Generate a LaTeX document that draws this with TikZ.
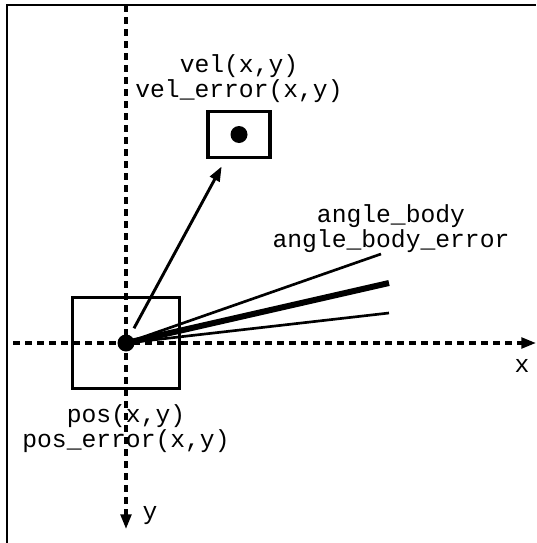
\documentclass[tikz,border=0pt]{standalone}
\usepackage{fontspec}
\setmonofont{Liberation Mono}
\usetikzlibrary{positioning,arrows.meta}
\begin{document}
\begin{tikzpicture}[x=0.75pt, y=-0.75pt, >={Triangle[length=11pt,width=8pt]},
    axis/.style={line width=2.4pt, dash pattern=on 5.5pt off 3.5pt},
    lbl/.style={font=\ttfamily\fontsize{18.5}{18.8}\selectfont, align=center, inner sep=0pt},
    box/.style={draw, line width=2.4pt, inner sep=0pt},
    dot/.style={circle, fill, inner sep=0pt, minimum size=12.75pt}]
    \useasboundingbox (0,0) rectangle (536,543);
    % frame
    \draw[line width=2pt] (7,543) -- (7,5) -- (536,5);
    % axes
    \coordinate (xs) at (13,343);
    \coordinate (xe) at (536,343);
    \coordinate (ys) at (126,5);
    \coordinate (ye) at (126,529);
    \draw[axis, ->] (xs) -- (xe);
    \draw[axis, ->] (ys) -- (ye);
    \node[lbl] (xl) at (522,366) {x};
    \node[lbl] (yl) at (150,516) {y};
    % body and position
    \node[dot] (o) at (126,343) {};
    \node[box, minimum width=80pt, minimum height=68pt] (posbox) at (o) {};
    \node[lbl, below=11pt of posbox] (poslbl) {pos(x,y)\\pos\_error(x,y)};
    % velocity
    \node[box, minimum width=46.5pt, minimum height=35pt] (velbox) at (239,134.5) {};
    \node[dot] (veldot) at (velbox.center) {};
    \node[lbl, above=5pt of velbox] (vellbl) {vel(x,y)\\vel\_error(x,y)};
    \draw[->, line width=2.2pt, shorten <=6pt, shorten >=6pt] (o) -- (velbox);
    % heading
    \coordinate (a1) at (381,254);
    \coordinate (a2) at (389,283);
    \coordinate (a3) at (389,313);
    \draw[line width=2pt] (o.center) -- (a1);
    \draw[line width=4.5pt] (o.center) -- (a2);
    \draw[line width=2pt] (o.center) -- (a3);
    \node[lbl] (anglbl) at (391,229) {angle\_body\\angle\_body\_error};
\end{tikzpicture}
\end{document}
